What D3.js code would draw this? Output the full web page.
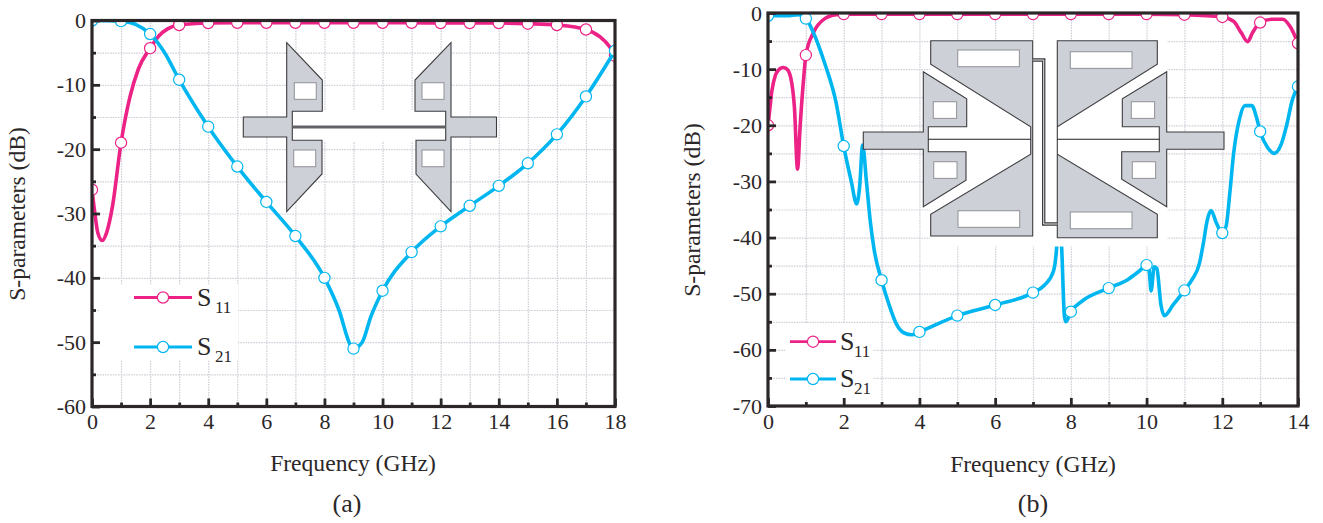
<!DOCTYPE html>
<html>
<head>
<meta charset="utf-8">
<script src="https://cdn.jsdelivr.net/npm/d3@7"></script>
<style>
  html, body { margin: 0; padding: 0; background: #fff; }
  svg { display: block; }
  text { font-family: "Liberation Serif", serif; fill: #2b2728; }
</style>
</head>
<body>
<script>
// panel (a), frequency in GHz and dB
const freqA11 = [0, 0.1, 0.2, 0.35, 0.5, 0.7, 1, 1.3, 1.6, 2, 2.3, 2.6, 3, 4, 5, 6, 7, 8, 9, 10, 11, 12, 13, 14, 15, 16, 17, 17.5, 17.8, 18];
const s11A = [-26.3, -30, -33, -34.2, -33, -29, -19, -12, -7.5, -4.3, -2.4, -1.3, -0.7, -0.4, -0.35, -0.35, -0.35, -0.35, -0.35, -0.35, -0.35, -0.4, -0.4, -0.4, -0.5, -0.7, -1.4, -2.6, -4, -5.5];
const freqA21 = [0, 1, 1.5, 2, 2.5, 3, 4, 5, 6, 7, 8, 8.5, 8.9, 9, 9.3, 9.6, 10, 11, 12, 13, 14, 15, 16, 17, 18];
const s21A = [0, -0.1, -0.6, -2.1, -5, -9.2, -16.5, -22.7, -28.2, -33.5, -40, -45, -50.5, -51, -50, -46, -42, -36, -32, -28.8, -25.7, -22.2, -17.7, -11.8, -4.7];

// panel (b)
const freqB11 = [0, 0.05, 0.1, 0.2, 0.3, 0.4, 0.5, 0.6, 0.7, 0.78, 0.85, 0.95, 1, 1.2, 1.5, 1.8, 2, 3, 4, 5, 6, 7, 8, 9, 10, 11, 12, 12.3, 12.5, 12.67, 12.8, 13, 13.3, 13.6, 13.8, 14];
const s11B = [-20, -17, -14, -11, -10, -9.7, -10, -11.5, -17, -27.8, -20, -11, -7.5, -3.5, -1, -0.3, -0.2, -0.2, -0.2, -0.2, -0.2, -0.2, -0.2, -0.2, -0.2, -0.3, -0.7, -1.5, -3.5, -5.1, -3.5, -1.7, -1.1, -1.1, -2.5, -5.4];
const freqB21 = [0, 0.5, 0.8, 1, 1.2, 1.5, 1.8, 2, 2.2, 2.34, 2.42, 2.5, 2.6, 2.7, 2.8, 3, 3.2, 3.4, 3.6, 3.8, 4, 5, 6, 7, 7.3, 7.54, 7.62, 7.69, 7.76, 7.83, 7.87, 8, 8.3, 9, 9.5, 9.8, 10, 10.07, 10.12, 10.2, 10.27, 10.38, 10.47, 10.7, 11, 11.2, 11.4, 11.5, 11.6, 11.7, 11.85, 12, 12.1, 12.2, 12.3, 12.45, 12.6, 12.78, 12.9, 13, 13.2, 13.37, 13.55, 13.7, 13.85, 14];
const s21B = [-0.5, -0.5, -0.3, -1, -3.5, -9, -16, -23.7, -30, -34, -31, -23.5, -30, -37, -42, -47.6, -52, -55.5, -57, -57.3, -56.8, -53.9, -52, -49.8, -48.5, -46, -42.2, -34, -42.2, -54, -55, -53.2, -51.3, -49, -47.5, -46, -44.9, -46, -49.5, -45.2, -45.5, -52, -53.9, -52, -49.4, -47.5, -44.5, -41, -37, -35.2, -37.5, -39.2, -38, -32, -25, -19, -16.5, -16.5, -18.5, -21.1, -24, -25, -23.5, -20, -15.5, -13.1];

const ticksA = { xMajor: d3.range(0, 19, 2), xMinor: d3.range(1, 18, 2), yMajor: d3.range(0, -61, -10), yMinor: d3.range(-5, -60, -10) };
const ticksB = { xMajor: d3.range(0, 15, 2), xMinor: d3.range(1, 14, 2), yMajor: d3.range(0, -71, -10), yMinor: d3.range(-5, -70, -10) };

const pink = '#ec2287';
const blue = '#00b6f0';
const ink = '#2b2728';
const gridColor = '#cfcfd9';
const metal = '#cdd0d6';

const svg = d3.select('body').append('svg').attr('width', 1323).attr('height', 523);

// draws one panel except inset and legend; mask runs between the curves and the frame
const drawPanel = (cfg) => {
  const x = d3.scaleLinear().domain(cfg.xDomain).range(cfg.xRange);
  const y = d3.scaleLinear().domain(cfg.yDomain).range(cfg.yRange);
  const w = cfg.xRange[1] - cfg.xRange[0];
  const h = cfg.yRange[1] - cfg.yRange[0];
  const g = svg.append('g');

  // grid
  const allX = cfg.ticks.xMajor.concat(cfg.ticks.xMinor);
  const allY = cfg.ticks.yMajor.concat(cfg.ticks.yMinor);
  const grid = g.append('g');
  grid.append('g').attr('transform', `translate(0,${cfg.yRange[1]})`)
    .call(d3.axisBottom(x).tickValues(allX).tickSize(-h).tickFormat(''));
  grid.append('g').attr('transform', `translate(${cfg.xRange[0]},0)`)
    .call(d3.axisLeft(y).tickValues(allY).tickSize(-w).tickFormat(''));
  grid.selectAll('.domain').remove();
  grid.selectAll('line').attr('stroke', gridColor).attr('stroke-width', 1.2).attr('stroke-dasharray', '1.6 1');

  // white patches behind the legend and inset
  cfg.patches.forEach((p) => {
    g.append('rect').attr('x', p[0]).attr('y', p[1]).attr('width', p[2]).attr('height', p[3]).attr('fill', '#fff');
  });

  // curves and markers
  const clipId = `clip-${cfg.name}`;
  g.append('clipPath').attr('id', clipId).append('rect')
    .attr('x', cfg.xRange[0]).attr('y', cfg.yRange[0]).attr('width', w).attr('height', h);
  const plot = g.append('g').attr('clip-path', `url(#${clipId})`);
  const line = d3.line().x((d) => x(d[0])).y((d) => y(d[1])).curve(d3.curveMonotoneX);
  cfg.series.forEach((s) => {
    const pts = d3.zip(s.freq, s.val);
    plot.append('path').attr('d', line(pts)).attr('fill', 'none')
      .attr('stroke', s.color).attr('stroke-width', 3.6).attr('stroke-linejoin', 'round');
    plot.selectAll(null).data(pts.filter((d) => Number.isInteger(d[0]))).enter().append('circle')
      .attr('cx', (d) => x(d[0])).attr('cy', (d) => y(d[1])).attr('r', 5.6)
      .attr('fill', '#fff').attr('stroke', s.color).attr('stroke-width', 1.2);
  });

  const front = svg.append('g');
  // axes
  const fmt = (d) => `${d}`.replace('\u2212', '-');
  const xAxis = front.append('g').attr('transform', `translate(0,${cfg.yRange[1]})`)
    .call(d3.axisBottom(x).tickValues(cfg.ticks.xMajor).tickSizeInner(-8).tickSizeOuter(0).tickPadding(7).tickFormat(fmt));
  const yAxis = front.append('g').attr('transform', `translate(${cfg.xRange[0]},0)`)
    .call(d3.axisLeft(y).tickValues(cfg.ticks.yMajor).tickSizeInner(-8).tickSizeOuter(0).tickPadding(6).tickFormat(fmt));
  front.append('g').attr('transform', `translate(0,${cfg.yRange[1]})`)
    .call(d3.axisBottom(x).tickValues(cfg.ticks.xMinor).tickSizeInner(-4).tickSizeOuter(0).tickFormat(''));
  front.append('g').attr('transform', `translate(${cfg.xRange[0]},0)`)
    .call(d3.axisLeft(y).tickValues(cfg.ticks.yMinor).tickSizeInner(-4).tickSizeOuter(0).tickFormat(''));
  front.selectAll('line').attr('stroke', ink).attr('stroke-width', 2.8);
  front.selectAll('.domain').remove();
  front.append('rect').attr('x', cfg.xRange[0]).attr('y', cfg.yRange[0]).attr('width', w).attr('height', h)
    .attr('fill', 'none').attr('stroke', ink).attr('stroke-width', 3.2);
  [xAxis, yAxis].forEach((a) => a.selectAll('text').attr('font-size', 22).attr('font-family', '"Liberation Serif", serif').attr('fill', ink));

  // titles
  front.append('text').attr('x', cfg.xLabel[0]).attr('y', cfg.xLabel[1]).attr('text-anchor', 'middle')
    .attr('font-size', 23.6).text('Frequency (GHz)');
  front.append('text').attr('transform', `translate(${cfg.yLabel[0]},${cfg.yLabel[1]}) rotate(-90)`)
    .attr('text-anchor', 'middle').attr('font-size', 23.6).text('S-parameters (dB)');
  front.append('text').attr('x', cfg.caption[0]).attr('y', cfg.caption[1]).attr('text-anchor', 'middle')
    .attr('font-size', 26).text(cfg.captionText);

  // legend
  cfg.legend.forEach((l) => {
    front.append('line').attr('x1', l.x1).attr('x2', l.x2).attr('y1', l.y).attr('y2', l.y)
      .attr('stroke', l.color).attr('stroke-width', 2.8);
    front.append('circle').attr('cx', (l.x1 + l.x2) / 2).attr('cy', l.y).attr('r', 5.6)
      .attr('fill', '#fff').attr('stroke', l.color).attr('stroke-width', 1.2);
    front.append('text').attr('x', l.tx).attr('y', l.y + 8).attr('font-size', 26).text('S');
    front.append('text').attr('x', l.sx).attr('y', l.y + 15).attr('font-size', 17).text(l.sub);
  });

  return front;
};

// inset drawing helpers, page pixels
const addPoly = (g, pts) => g.append('polygon').attr('points', pts.join(' '))
  .attr('fill', metal).attr('stroke', '#3d3d40').attr('stroke-width', 1.1);
const addHole = (g, r) => g.append('rect').attr('x', r[0]).attr('y', r[1]).attr('width', r[2]).attr('height', r[3])
  .attr('fill', '#fff').attr('stroke', '#97999e').attr('stroke-width', 1.1);

const frontA = drawPanel({
  name: 'a',
  xDomain: [0, 18], xRange: [92, 615],
  yDomain: [0, -60], yRange: [20.5, 406.5],
  ticks: ticksA,
  series: [
    { freq: freqA11, val: s11A, color: pink },
    { freq: freqA21, val: s21A, color: blue }
  ],
  patches: [[100, 285, 138, 75], [292, 111, 154, 30]],
  xLabel: [353, 471], yLabel: [25, 214], caption: [347, 512], captionText: '(a)',
  legend: [
    { x1: 134, x2: 192, y: 297.5, color: pink, tx: 197, sx: 215, sub: '11' },
    { x1: 134, x2: 192, y: 347, color: blue, tx: 197, sx: 215, sub: '21' }
  ]
});

const insetA = frontA.append('g');
[
  [[286.7, 42.7], [322.3, 80], [322.3, 111.3], [292.3, 111.3], [292.3, 140.3], [322, 140.3], [322, 174], [286.7, 211.7], [286.7, 137], [243.3, 137], [243.3, 117], [286.7, 117]],
  [[451, 42.7], [415, 80], [415, 111.3], [445.7, 111.3], [445.7, 140.3], [416, 140.3], [416, 174], [451, 211.7], [451, 137], [496.5, 137], [496.5, 117], [451, 117]]
].forEach((p) => addPoly(insetA, p));
[[294.3, 82.7, 22, 16.7], [293.7, 150, 22, 16.7], [422, 82.7, 22, 16.7], [422, 150, 22, 16.7]].forEach((r) => addHole(insetA, r));
insetA.append('line').attr('x1', 292.3).attr('x2', 445.7).attr('y1', 127).attr('y2', 127)
  .attr('stroke', '#626266').attr('stroke-width', 3);

const frontB = drawPanel({
  name: 'b',
  xDomain: [0, 14], xRange: [768, 1298],
  yDomain: [0, -70], yRange: [13, 406],
  ticks: ticksB,
  series: [
    { freq: freqB11, val: s11B, color: pink },
    { freq: freqB21, val: s21B, color: blue }
  ],
  patches: [[785, 323, 88, 77]],
  xLabel: [1033, 472], yLabel: [700, 210], caption: [1033, 512], captionText: '(b)',
  legend: [
    { x1: 790, x2: 836, y: 341.7, color: pink, tx: 840, sx: 854, sub: '11' },
    { x1: 790, x2: 836, y: 379, color: blue, tx: 840, sx: 854, sub: '21' }
  ]
});

// inset (b) sits over the curve, with a white band that hides the spike near 7.7 GHz
const insetB = frontB.append('g');
insetB.append('rect').attr('x', 930).attr('y', 40).attr('width', 237).attr('height', 206.5).attr('fill', '#fff');
[
  [[930.7, 40.7], [1032.7, 40.7], [1032.7, 236], [930.7, 236], [930.7, 214.3], [1030.7, 154.3], [1030.7, 126.7], [930.7, 64.3]],
  [[923.3, 71.7], [966.7, 98.7], [966.7, 126.7], [928.3, 126.7], [928.3, 151.7], [966, 151.7], [966, 180.3], [923.3, 206.7], [923.3, 149.3], [863.3, 149.3], [863.3, 132], [923.3, 132]],
  [[1057.3, 40.7], [1157.3, 40.7], [1157.3, 64.3], [1057.3, 126.7], [1057.3, 154.3], [1157.3, 214.3], [1157.3, 237.7], [1057.3, 237.7]],
  [[1166.7, 71.7], [1122.3, 98.7], [1122.3, 126.7], [1159.3, 126.7], [1159.3, 151.7], [1121.7, 151.7], [1121.7, 179.3], [1166.7, 206.7], [1166.7, 149.3], [1224, 149.3], [1224, 132], [1166.7, 132]]
].forEach((p) => addPoly(insetB, p));
[
  [933.3, 101.7, 23.3, 16.7], [933.7, 161.7, 23.3, 16.7], [957.7, 50, 61.7, 16.7], [958, 210.7, 61.7, 16.7],
  [1131.3, 101.7, 23.3, 16.7], [1132.3, 161.7, 23.3, 16.7], [1070.3, 51.7, 61.7, 16.7], [1070.3, 212, 61.7, 16.7]
].forEach((r) => addHole(insetB, r));
[[928.3, 1030.7], [1057.3, 1159.3]].forEach((s) => {
  insetB.append('line').attr('x1', s[0]).attr('x2', s[1]).attr('y1', 139.3).attr('y2', 139.3)
    .attr('stroke', '#1f1f22').attr('stroke-width', 1.1);
});
// meander between the two halves
const meander = 'M1032.7,60 H1043.7 V224 H1057.3';
insetB.append('path').attr('d', meander).attr('fill', 'none').attr('stroke', '#3d3d40').attr('stroke-width', 3.4);
insetB.append('path').attr('d', meander).attr('fill', 'none').attr('stroke', '#e6e7ea').attr('stroke-width', 1);
</script>
</body>
</html>
